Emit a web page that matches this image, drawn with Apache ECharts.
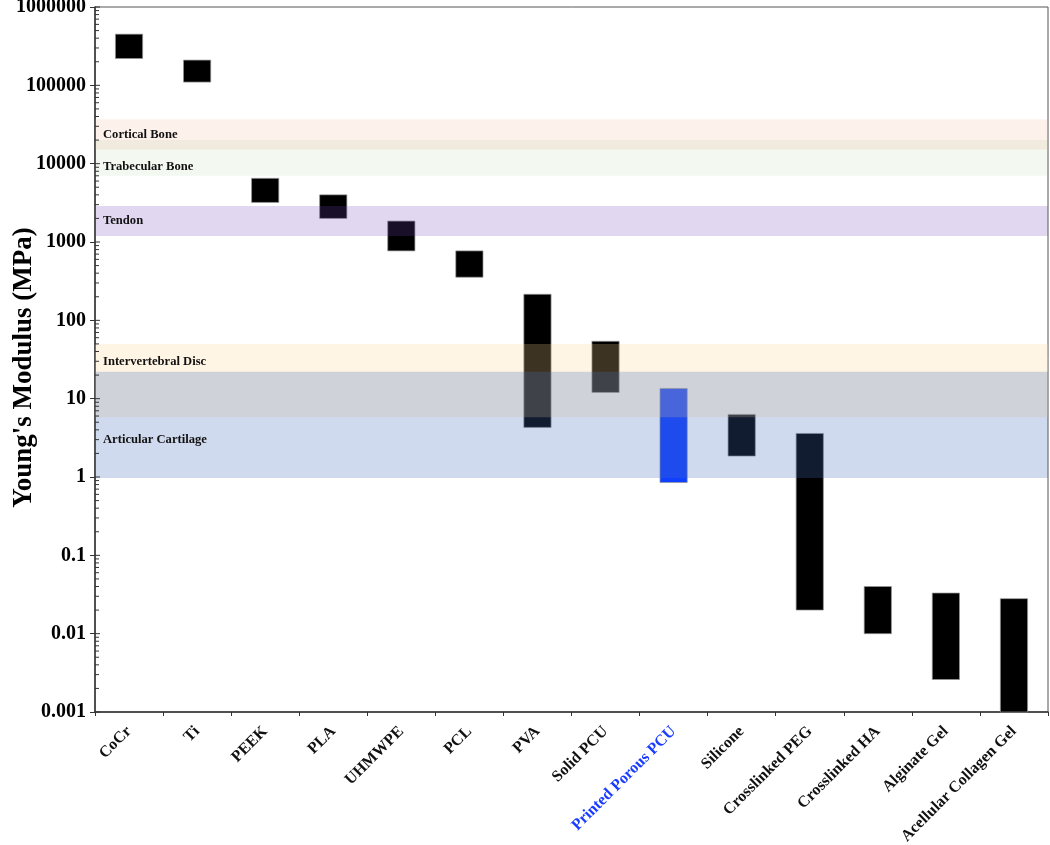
<!DOCTYPE html>
<html>
<head>
<meta charset="utf-8">
<script src="https://cdn.jsdelivr.net/npm/echarts@6/dist/echarts.min.js"></script>
<style>html,body{margin:0;padding:0;background:#fff}#c{width:1050px;height:845px}</style>
</head>
<body>
<div id="c"></div>
<script>
// ---- data ----
const categories = ['CoCr','Ti','PEEK','PLA','UHMWPE','PCL','PVA','Solid PCU','Printed Porous PCU','Silicone','Crosslinked PEG','Crosslinked HA','Alginate Gel','Acellular Collagen Gel'];
const lowValues  = [220000, 110000, 3200, 2000, 770, 355, 4.3, 12, 0.85, 1.85, 0.02, 0.01, 0.0026, 0.001];
const highValues = [450000, 210000, 6500, 4000, 1850, 770, 215, 54, 13.5, 6.3, 3.6, 0.04, 0.033, 0.028];
const bandNames = ['Cortical Bone','Trabecular Bone','Tendon','Intervertebral Disc','Articular Cartilage'];
const bandLow   = [15000, 7000, 1190, 5.8, 0.97];
const bandHigh  = [37000, 20000, 2880, 50, 22];
const yTickValues = [0.001, 0.01, 0.1, 1, 10, 100, 1000, 10000, 100000, 1000000];
const yTickLabels = ['0.001','0.01','0.1','1','10','100','1000','10000','100000','1000000'];
const highlightCategory = 'Printed Porous PCU';

// ---- styles ----
const serif = 'Liberation Serif';
const bandStyles = [
  {fill:'rgba(240,150,110,0.13)', dy:0},
  {fill:'rgba(140,185,105,0.10)', dy:9},
  {fill:'rgba(116,69,185,0.216)', dy:0},
  {fill:'rgba(255,214,144,0.24)', dy:-19},
  {fill:'rgba(70,110,188,0.255)', dy:15}
];

// log-axis minor tick positions (axis decoration)
const tickMarks = [];
for (let k = 0; k < yTickValues.length; k++) {
  tickMarks.push([0, yTickValues[k], 1]);
  if (k < yTickValues.length - 1) {
    for (let m = 2; m <= 9; m++) tickMarks.push([0, yTickValues[k] * m, 0]);
  }
}

const chart = echarts.init(document.getElementById('c'), null, {renderer:'canvas'});
chart.setOption({
  animation: false,
  backgroundColor: '#fff',
  grid: {left: 95, right: 2, top: 7, bottom: 133, containLabel: false, outerBoundsMode: 'none',
    show: true, borderColor: '#555', borderWidth: 1, backgroundColor: 'transparent'},
  xAxis: {
    type: 'category',
    data: categories.map(c => c === highlightCategory ? {value: c, textStyle: {color: '#1a3cff'}} : c),
    boundaryGap: true,
    axisLine: {lineStyle: {color: '#333', width: 1.5}},
    axisTick: {show: true, length: 4, lineStyle: {color: '#333'}},
    axisLabel: {interval: 0, rotate: 45, margin: 17, fontFamily: serif, fontWeight: 'bold', fontSize: 16, color: '#111'},
    splitLine: {show: false}
  },
  yAxis: {
    type: 'log',
    logBase: 10,
    min: 0.001,
    max: 1000000,
    name: "Young's Modulus (MPa)",
    nameLocation: 'middle',
    nameGap: 57,
    nameMoveOverlap: false,
    nameTextStyle: {fontFamily: serif, fontWeight: 'bold', fontSize: 27, color: '#000', padding: [0, 16, 0, 0]},
    axisLine: {show: true, lineStyle: {color: '#333', width: 1.5}},
    axisTick: {show: true, length: 5, lineStyle: {color: '#333'}},
    axisLabel: {margin: 9, fontFamily: serif, fontWeight: 'bold', fontSize: 20, color: '#000',
      formatter: v => { const i = yTickValues.findIndex(t => Math.abs(Math.log10(t) - Math.log10(v)) < 1e-6); return i >= 0 ? yTickLabels[i] : ''; }},
    splitLine: {show: false},
    minorTick: {show: false}
  },
  series: [
    {
      type: 'custom',
      z: 2,
      data: categories.map((c, i) => [i, lowValues[i], highValues[i]]),
      encode: {x: 0, y: [1, 2]},
      renderItem: (params, api) => {
        const i = api.value(0);
        const lo = api.coord([i, api.value(1)]);
        const hi = api.coord([i, api.value(2)]);
        const w = api.size([1, 0])[0] * 0.4;
        const fill = categories[i] === highlightCategory ? '#1040ff' : '#000';
        return {type: 'rect', shape: {x: lo[0] - w / 2, y: hi[1], width: w, height: lo[1] - hi[1]},
          style: {fill: fill, stroke: 'rgba(150,150,150,0.7)', lineWidth: 1}};
      }
    },
    {
      type: 'custom',
      z: 6,
      clip: false,
      silent: true,
      data: tickMarks,
      encode: {x: 0, y: 1},
      renderItem: (params, api) => {
        const p = api.coord([0, api.value(1)]);
        const x0 = params.coordSys.x;
        const len = api.value(2) ? 5 : 4;
        return {type: 'line', shape: {x1: x0, y1: p[1], x2: x0 + len, y2: p[1]}, style: {stroke: '#333', lineWidth: 1}};
      }
    },
    {
      type: 'line',
      z: 5,
      data: [],
      silent: true,
      markArea: {
        silent: true,
        z: 5,
        data: bandNames.map((n, i) => [
          {name: n, yAxis: bandLow[i], itemStyle: {color: bandStyles[i].fill},
            label: {show: true, position: 'insideLeft', distance: 8, offset: [0, bandStyles[i].dy], fontFamily: serif, fontWeight: 'bold', fontSize: 12.6, color: '#111'}},
          {yAxis: bandHigh[i]}
        ])
      }
    }
  ]
});
</script>
</body>
</html>
